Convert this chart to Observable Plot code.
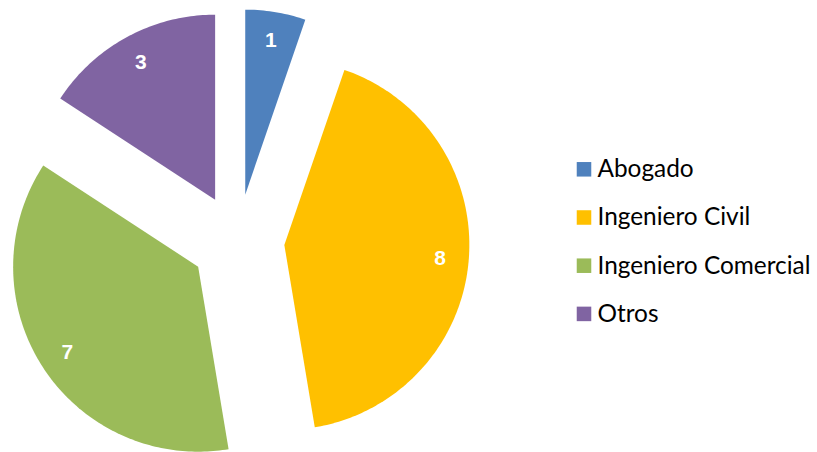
<!DOCTYPE html>
<html><head><meta charset="utf-8">
<script src="https://cdn.jsdelivr.net/npm/d3@7"></script>
<script src="https://cdn.jsdelivr.net/npm/@observablehq/plot@0.6"></script>
<style>body{margin:0;background:#fff}</style>
</head><body><div id="chart"></div>
<script>
const categories = ["Abogado", "Ingeniero Civil", "Ingeniero Comercial", "Otros"];
const values = [1, 8, 7, 3];
const colors = ["#4F81BD", "#FFC000", "#9BBB59", "#8064A2"];

const W = 817, H = 452;
const cx = 237, cy = 240.5, R = 185, explode = 47, labelR = 0.845;
const legendX = 583.5, legendY0 = 168.8, legendStep = 48.2;

const pie = d3.pie().sort(null).value(d => d.value).startAngle(0).endAngle(2 * Math.PI);
const arcs = pie(categories.map((c, i) => ({category: c, value: values[i]})));
const poly = [], labels = [];
for (const a of arcs) {
  const c = a.data.category;
  const mid = (a.startAngle + a.endAngle) / 2;
  const ax = cx + explode * Math.sin(mid), ay = cy - explode * Math.cos(mid);
  poly.push({category: c, x: ax, y: ay});
  const n = Math.max(8, Math.ceil((a.endAngle - a.startAngle) * 60));
  for (let k = 0; k <= n; k++) {
    const t = a.startAngle + (a.endAngle - a.startAngle) * k / n;
    poly.push({category: c, x: ax + R * Math.sin(t), y: ay - R * Math.cos(t)});
  }
  labels.push({category: c, value: a.data.value, x: ax + labelR * R * Math.sin(mid), y: ay - labelR * R * Math.cos(mid)});
}
const legend = categories.map((c, i) => ({category: c, x: legendX, y: legendY0 + i * legendStep}));

const chart = Plot.plot({
  width: W, height: H,
  margin: 0,
  x: {domain: [0, W], range: [0, W], axis: null},
  y: {domain: [0, H], range: [0, H], axis: null},
  color: {domain: categories, range: colors},
  style: {fontFamily: "Lato, 'Liberation Sans', sans-serif", background: "#fff"},
  marks: [
    Plot.line(poly, {x: "x", y: "y", z: "category", fill: "category", stroke: "none", curve: "linear-closed"}),
    Plot.text(labels, {x: "x", y: "y", text: d => String(d.value), fill: "white", fontSize: 21, fontWeight: "bold", fontFamily: "'Liberation Sans', sans-serif"}),
    Plot.dot(legend, {x: "x", y: "y", symbol: "square", r: 8.2, fill: "category", stroke: "none"}),
    Plot.text(legend, {x: "x", y: "y", dx: 13.5, text: "category", textAnchor: "start", fill: "#000", fontSize: 24.4})
  ]
});
document.getElementById("chart").appendChild(chart);
</script>
</body></html>
